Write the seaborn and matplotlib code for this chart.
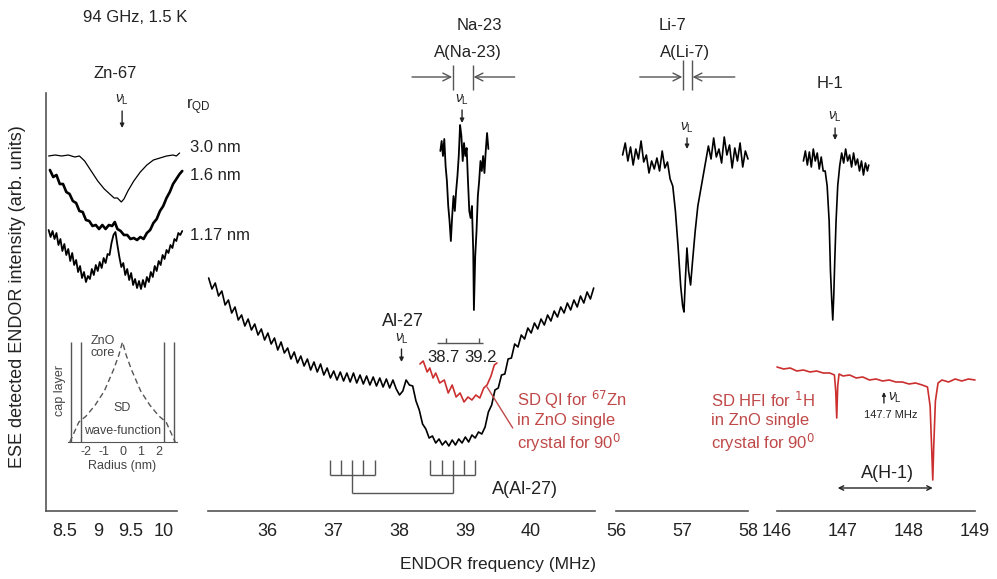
import matplotlib
matplotlib.use("Agg")
import matplotlib.pyplot as plt
import numpy as np
import seaborn as sns

sns.set_style("white")
plt.rcParams['font.family'] = ['Liberation Sans', 'DejaVu Sans']
plt.rcParams['mathtext.fontset'] = 'custom'
plt.rcParams['mathtext.rm'] = 'Liberation Sans'
plt.rcParams['mathtext.it'] = 'Liberation Sans:italic'
plt.rcParams['mathtext.fallback'] = 'stixsans'

# ---------------- data (frequency in MHz, intensity in arb. units) ----------------
zn_30_x = [8.25, 8.35, 8.45, 8.55, 8.65, 8.72, 8.80, 8.90, 9.00, 9.10, 9.20, 9.25, 9.30,
           9.36, 9.40, 9.46, 9.55, 9.65, 9.75, 9.85, 9.95, 10.05, 10.15, 10.20, 10.25]
zn_30_y = [35.5, 35.6, 35.5, 35.6, 35.4, 35.5, 35.0, 34.0, 33.0, 32.2, 31.6, 31.3, 31.3,
           30.9, 31.2, 32.0, 33.0, 33.9, 34.6, 35.1, 35.3, 35.5, 35.6, 35.5, 35.8]

zn_16_x = [8.27, 8.32, 8.37, 8.42, 8.47, 8.52, 8.57, 8.62, 8.67, 8.72, 8.77, 8.82, 8.87,
           8.92, 8.97, 9.02, 9.07, 9.12, 9.17, 9.22, 9.26, 9.30, 9.35, 9.40, 9.45, 9.50,
           9.55, 9.60, 9.65, 9.70, 9.75, 9.80, 9.85, 9.90, 9.95, 10.00, 10.05, 10.10,
           10.15, 10.20, 10.25, 10.29]
zn_16_y = [34.1, 33.4, 33.6, 32.7, 32.7, 31.9, 31.7, 31.0, 30.8, 30.0, 29.9, 29.1, 29.0,
           28.5, 28.6, 28.2, 28.6, 28.2, 28.6, 28.5, 28.9, 28.2, 28.0, 27.6, 27.6, 27.2,
           27.3, 27.1, 27.4, 27.2, 27.8, 28.1, 28.8, 29.2, 30.0, 30.5, 31.3, 31.9, 32.7,
           33.2, 33.7, 34.0]

zn_117_x = [8.25, 8.28, 8.31, 8.34, 8.37, 8.40, 8.43, 8.46, 8.49, 8.52, 8.55, 8.58, 8.61,
            8.64, 8.67, 8.70, 8.73, 8.76, 8.79, 8.82, 8.85, 8.88, 8.91, 8.94, 8.97, 9.00,
            9.03, 9.06, 9.09, 9.12, 9.15, 9.18, 9.21, 9.24, 9.27, 9.30, 9.33, 9.36, 9.39,
            9.42, 9.45, 9.48, 9.51, 9.54, 9.57, 9.60, 9.63, 9.66, 9.69, 9.72, 9.75, 9.78,
            9.81, 9.84, 9.87, 9.90, 9.93, 9.96, 9.99, 10.02, 10.05, 10.08, 10.11, 10.14,
            10.17, 10.20, 10.23, 10.26, 10.29]
zn_117_y = [28.1, 27.4, 28.0, 27.2, 27.8, 26.6, 27.2, 26.0, 26.7, 25.6, 26.2, 25.0, 25.8,
            24.6, 25.1, 23.9, 24.5, 23.3, 23.9, 22.9, 23.5, 23.2, 24.2, 23.6, 24.6, 24.0,
            24.9, 24.3, 25.3, 24.8, 25.7, 25.6, 26.8, 27.6, 27.9, 26.6, 25.4, 24.4, 24.8,
            23.6, 24.2, 23.1, 23.8, 22.6, 23.2, 22.3, 23.0, 22.2, 23.1, 22.4, 23.4, 22.9,
            23.9, 23.4, 24.5, 24.0, 25.0, 24.6, 25.6, 25.2, 26.1, 25.8, 26.6, 26.3, 27.2,
            27.0, 27.8, 27.6, 28.0]

# inset: spin density wave function vs radius (nm)
wf_r = [-2.9, -2.6, -2.4, -2.0, -1.5, -1.0, -0.5, -0.2, 0.0, 0.2, 0.5, 1.0, 1.5, 2.0, 2.4, 2.6, 2.9]
wf_psi = [0.0, 0.12, 0.2, 0.26, 0.37, 0.51, 0.72, 0.87, 1.0, 0.87, 0.72, 0.51, 0.37, 0.26, 0.2, 0.12, 0.0]
core_edges = [-2.3, 2.3]
cap_edges = [-2.85, 2.85]

# Al-27 ENDOR (35.10 ... 40.95 MHz, 0.05 MHz steps)
al_y = [23.3, 22.2, 22.8, 21.5, 22.0, 20.6, 21.1, 19.8, 20.4, 19.1, 19.6, 18.5, 19.2, 18.1,
        18.7, 17.6, 18.2, 17.1, 17.8, 16.7, 17.3, 16.1, 16.9, 15.8, 16.3, 15.2, 15.9, 14.8,
        15.5, 14.5, 15.2, 14.1, 14.9, 13.9, 14.7, 13.6, 14.3, 13.3, 14.0, 13.1, 13.9, 13.0,
        13.8, 12.9, 13.8, 12.8, 13.6, 12.7, 13.5, 12.6, 13.4, 12.5, 13.3, 12.4, 13.2, 12.3,
        13.1, 12.2, 11.6, 12.0, 13.1, 12.6, 12.5, 11.0, 10.1, 8.7, 8.2, 7.3, 7.5, 6.8, 7.2,
        6.6, 7.0, 6.5, 7.1, 6.6, 7.2, 6.8, 7.4, 6.9, 7.6, 7.3, 7.9, 7.7, 8.4, 9.9, 10.6, 12.1,
        12.3, 13.6, 13.7, 15.2, 15.3, 16.7, 16.4, 17.6, 17.2, 18.3, 17.8, 18.8, 18.2, 19.2,
        18.6, 19.6, 19.0, 20.0, 19.4, 20.4, 19.8, 20.8, 20.1, 21.1, 20.4, 21.5, 20.8, 21.9,
        21.2, 22.3]
al_x = np.linspace(35.10, 40.95, len(al_y))

# 67Zn quadrupole interaction, single crystal (red)
qi_x = [38.31, 38.36, 38.42, 38.46, 38.51, 38.55, 38.61, 38.68, 38.74, 38.80, 38.86, 38.92,
        38.98, 39.04, 39.10, 39.16, 39.22, 39.28, 39.33, 39.39, 39.44, 39.48]
qi_y = [14.7, 15.0, 13.9, 14.3, 13.3, 13.8, 12.8, 13.1, 11.8, 12.6, 11.4, 11.8, 10.9, 11.4,
        11.1, 11.6, 11.3, 12.3, 12.6, 13.5, 14.6, 14.8]
qi_marks = [38.7, 39.2]

# Al-27 hyperfine stick diagram
al_sticks_low = [36.94, 37.11, 37.28, 37.45, 37.62]
al_sticks_high = [38.47, 38.64, 38.81, 38.98, 39.15]

# Na-23 ENDOR
na_x = [38.62, 38.64, 38.66, 38.68, 38.70, 38.72, 38.74, 38.76, 38.78, 38.80, 38.82, 38.84,
        38.86, 38.88, 38.90, 38.92, 38.94, 38.96, 38.98, 39.00, 39.02, 39.04, 39.06, 39.08,
        39.10, 39.12, 39.13, 39.15, 39.17, 39.19, 39.21, 39.23, 39.25, 39.27, 39.29, 39.31,
        39.33, 39.35]
na_y = [36.0, 37.0, 35.5, 37.2, 34.5, 33.0, 30.5, 29.0, 27.0, 29.5, 31.5, 30.0, 32.0, 33.5,
        35.5, 38.6, 37.5, 35.0, 36.8, 35.5, 36.3, 33.0, 30.0, 29.3, 30.5, 26.0, 20.1, 25.5,
        28.0, 31.5, 33.0, 35.0, 34.0, 35.5, 33.8, 36.0, 37.8, 36.2]

# Li-7 ENDOR
li_x = [56.10, 56.14, 56.18, 56.22, 56.26, 56.30, 56.34, 56.38, 56.42, 56.46, 56.50, 56.54,
        56.58, 56.62, 56.66, 56.70, 56.74, 56.78, 56.82, 56.86, 56.90, 56.94, 56.98, 57.01,
        57.03, 57.05, 57.075, 57.10, 57.13, 57.16, 57.20, 57.24, 57.28, 57.32, 57.36, 57.40,
        57.44, 57.48, 57.52, 57.56, 57.60, 57.64, 57.68, 57.72, 57.76, 57.80, 57.84, 57.88,
        57.92, 57.96, 58.00]
li_y = [35.6, 36.8, 35.0, 36.4, 34.6, 36.2, 35.2, 37.0, 34.9, 35.6, 33.8, 35.0, 34.2, 35.3,
        34.0, 36.0, 34.3, 34.9, 33.2, 32.5, 30.0, 26.5, 22.5, 20.5, 19.9, 23.0, 26.3, 24.0,
        22.6, 25.0, 28.0, 30.5, 32.0, 33.5, 35.0, 36.5, 35.2, 37.3, 35.4, 36.2, 34.8, 37.4,
        35.6, 36.6, 34.3, 36.3, 35.0, 36.8, 34.4, 36.0, 35.2]

# H-1 ENDOR
h_x = [146.40, 146.43, 146.46, 146.49, 146.52, 146.55, 146.58, 146.61, 146.64, 146.67, 146.70,
       146.73, 146.76, 146.79, 146.81, 146.83, 146.845, 146.86, 146.875, 146.895, 146.92,
       146.95, 146.98, 147.01, 147.04, 147.07, 147.10, 147.13, 147.16, 147.19, 147.22,
       147.25, 147.28, 147.31, 147.34, 147.37, 147.39]
h_y = [35.0, 36.0, 34.6, 35.9, 34.4, 36.2, 35.0, 35.8, 34.2, 35.4, 34.0, 34.0, 32.5, 29.0,
       24.0, 21.0, 19.1, 21.5, 25.0, 29.0, 32.5, 34.5, 35.8, 34.8, 36.2, 35.0, 35.6, 34.4,
       35.8, 34.6, 35.2, 34.0, 35.0, 33.6, 34.8, 34.0, 34.6]

# 1H hyperfine interaction, single crystal (red)
hfi_x = [146.00, 146.10, 146.20, 146.30, 146.40, 146.50, 146.60, 146.70, 146.80, 146.87,
         146.89, 146.905, 146.92, 146.94, 147.00, 147.10, 147.20, 147.30, 147.40, 147.50,
         147.60, 147.70, 147.80, 147.90, 148.00, 148.10, 148.20, 148.28, 148.32, 148.345,
         148.36, 148.375, 148.40, 148.44, 148.50, 148.60, 148.70, 148.80, 148.90, 149.00]
hfi_y = [14.4, 14.2, 14.3, 14.0, 14.1, 13.9, 14.0, 13.8, 13.8, 13.6, 12.0, 9.3, 12.5, 13.7,
         13.5, 13.6, 13.3, 13.4, 13.1, 13.2, 13.0, 13.1, 12.9, 12.9, 12.7, 12.8, 12.6, 12.4,
         10.5, 6.0, 3.1, 6.5, 11.0, 12.8, 13.1, 12.9, 13.2, 13.0, 13.2, 13.1]
h_larmor = 147.62
a_h = [146.92, 148.36]

qi_note = [r'SD QI for $^{\mathsf{67}}$Zn', 'in ZnO single', r'crystal for 90$^{\mathsf{0}}$']
hfi_note = [r'SD HFI for $^{\mathsf{1}}$H', 'in ZnO single', r'crystal for 90$^{\mathsf{0}}$']
note_rows = [11.1, 9.0, 6.8]

# ---------------- figure ----------------
W, H = 997, 579
AX_BOTTOM = 511
fig = plt.figure(figsize=(W / 100, H / 100), dpi=100)

INK = '#222222'
AXC = '#555555'
RED_LINE = '#cc2f2f'
RED_TXT = '#c04848'
NU = r'$\nu_{\rm L}$'


def panel(x0, x1, xlim):
    ax = fig.add_axes([x0 / W, (H - AX_BOTTOM) / H, (x1 - x0) / W, AX_BOTTOM / H])
    ax.set_xlim(*xlim)
    ax.set_ylim(0, AX_BOTTOM / 10)
    ax.patch.set_alpha(0)
    for s in ['top', 'right', 'left']:
        ax.spines[s].set_visible(False)
    ax.spines['bottom'].set_color(AXC)
    ax.spines['bottom'].set_linewidth(1.2)
    ax.set_yticks([])
    ax.tick_params(axis='x', which='major', direction='in', length=6, width=1,
                   color=AXC, pad=9, labelsize=13, labelcolor=INK)
    ax.tick_params(axis='x', which='minor', direction='in', length=3, width=1,
                   color=AXC, pad=9, labelsize=13, labelcolor=INK)
    ax.grid(False)
    return ax


def trace(ax, x, y, color='black', lw=1.2):
    sns.lineplot(x=x, y=y, ax=ax, color=color, lw=lw, estimator=None, sort=False)
    ax.lines[-1].set_clip_on(False)


def arrow(ax, x0, y0, x1, y1, style='-|>', scale=6, color=INK):
    ax.annotate('', xy=(x1, y1), xytext=(x0, y0),
                arrowprops=dict(arrowstyle=style, lw=1, color=color, mutation_scale=scale,
                                shrinkA=0, shrinkB=0),
                annotation_clip=False)


def larmor(ax, x, y_txt, y0, y1):
    ax.text(x, y_txt, NU, ha='center', va='center', fontsize=10, color=INK)
    arrow(ax, x, y0, x, y1)


def note(ax, x, rows):
    for line, yy in zip(rows, note_rows):
        ax.text(x, yy, line, ha='left', va='center', fontsize=12, color=RED_TXT)


# --- Zn-67 panel
ax_zn = panel(46, 177, (8.21, 10.21))
ax_zn.spines['left'].set_visible(True)
ax_zn.spines['left'].set_color(AXC)
ax_zn.spines['left'].set_linewidth(1.2)
ax_zn.spines['left'].set_bounds(0, 41.8)
ax_zn.set_xticks([9, 10], labels=['9', '10'])
ax_zn.set_xticks([8.5, 9.5], labels=['8.5', '9.5'], minor=True)
trace(ax_zn, zn_30_x, zn_30_y, lw=0.9)
trace(ax_zn, zn_16_x, zn_16_y, lw=1.9)
trace(ax_zn, zn_117_x, zn_117_y, lw=1.3)
larmor(ax_zn, 9.372, 41.1, 40.0, 38.3)
ax_zn.text(9.57, 49.3, '94 GHz, 1.5 K', ha='center', va='center', fontsize=12, color=INK)
ax_zn.text(9.27, 43.8, 'Zn-67', ha='center', va='center', fontsize=12, color=INK)
ax_zn.text(10.34, 40.4, r'r$_{\rm QD}$', ha='left', va='center', fontsize=12, color=INK)
for lab, yy in zip(['3.0 nm', '1.6 nm', '1.17 nm'], [36.3, 33.5, 27.6]):
    ax_zn.text(10.41, yy, lab, ha='left', va='center', fontsize=12, color=INK)

# inset with the wave function
ax_in = fig.add_axes([68 / W, (H - 442) / H, 109 / W, 100 / H])
ax_in.set_xlim(-3, 3)
ax_in.set_ylim(0, 1)
ax_in.patch.set_alpha(0)
for s in ['top', 'right', 'left']:
    ax_in.spines[s].set_visible(False)
ax_in.spines['bottom'].set_color(AXC)
ax_in.set_yticks([])
ax_in.set_xticks([-2, -1, 0, 1, 2], labels=['-2', '-1', '0', '1', '2'])
ax_in.tick_params(axis='x', length=0, pad=3, labelsize=9, labelcolor='#444444')
ax_in.set_xlabel('Radius (nm)', fontsize=9, color='#444444', labelpad=1)
sns.lineplot(x=wf_r, y=wf_psi, ax=ax_in, color='#555555', lw=1, linestyle=(0, (4, 2.5)),
             estimator=None, sort=False)
ax_in.vlines(core_edges + cap_edges, 0, 1, color=AXC, lw=1)
ax_in.text(-1.78, 1.07, 'ZnO\ncore', ha='left', va='top', fontsize=9, color='#444444',
           linespacing=1.0)
ax_in.text(0, 0.34, 'SD', ha='center', va='center', fontsize=9, color='#444444')
ax_in.text(0, 0.11, 'wave-function', ha='center', va='center', fontsize=9, color='#444444')
ax_in.text(-3.45, 0.52, 'cap layer', ha='center', va='center', rotation=90, fontsize=9,
           color='#444444')

# --- Al-27 / Na-23 panel
ax_al = panel(208, 595, (35.09, 40.97))
ax_al.set_xticks([36, 37, 38, 39, 40], labels=['36', '37', '38', '39', '40'])
ax_al.set_xticks([35.5, 36.5, 37.5, 38.5, 39.5, 40.5], minor=True)
trace(ax_al, al_x, al_y, lw=1.2)
trace(ax_al, qi_x, qi_y, color=RED_LINE, lw=1.2)
trace(ax_al, na_x, na_y, lw=1.3)
larmor(ax_al, 38.03, 17.2, 16.2, 14.9)
ax_al.text(38.05, 18.9, 'Al-27', ha='center', va='center', fontsize=13, color=INK)
ax_al.hlines(16.8, 38.57, 39.27, color=AXC, lw=1)
ax_al.vlines(qi_marks, 16.8, 17.3, color=AXC, lw=1)
ax_al.text(qi_marks[0] + 0.21, 15.4, f'{qi_marks[0]}', ha='right', va='center', fontsize=12,
           color=INK)
ax_al.text(qi_marks[1] - 0.21, 15.4, f'{qi_marks[1]}', ha='left', va='center', fontsize=12,
           color=INK)
arrow(ax_al, 39.72, 8.3, 39.33, 12.4, style='-', color=RED_TXT)
note(ax_al, 39.78, qi_note)
# stick diagram
for grp in (al_sticks_low, al_sticks_high):
    ax_al.vlines(grp, 3.6, 5.1, color=AXC, lw=1)
    ax_al.hlines(3.6, grp[0], grp[-1], color=AXC, lw=1)
    ax_al.vlines(grp[2], 1.8, 3.6, color=AXC, lw=1)
ax_al.hlines(1.8, al_sticks_low[2], al_sticks_high[2], color=AXC, lw=1)
ax_al.text(39.9, 2.1, 'A(Al-27)', ha='center', va='center', fontsize=13, color=INK)
# Na-23 header
ax_al.text(39.21, 48.6, 'Na-23', ha='center', va='center', fontsize=12, color=INK)
ax_al.text(39.04, 45.8, 'A(Na-23)', ha='center', va='center', fontsize=12, color=INK)
ax_al.vlines([38.81, 39.115], 42.1, 44.6, color=AXC, lw=1)
arrow(ax_al, 38.19, 43.4, 38.80, 43.4, style='->', scale=14, color=AXC)
arrow(ax_al, 39.75, 43.4, 39.125, 43.4, style='->', scale=14, color=AXC)
larmor(ax_al, 38.95, 41.1, 40.1, 38.8)

# --- Li-7 panel
ax_li = panel(616, 748, (56, 58))
ax_li.set_xticks([56, 57, 58], labels=['56', '57', '58'])
ax_li.set_xticks([56.5, 57.5], minor=True)
trace(ax_li, li_x, li_y, lw=1.2)
larmor(ax_li, 57.076, 38.3, 37.3, 36.2)
ax_li.text(56.85, 48.6, 'Li-7', ha='center', va='center', fontsize=12, color=INK)
ax_li.text(57.045, 45.9, 'A(Li-7)', ha='center', va='center', fontsize=12, color=INK)
ax_li.vlines([57.015, 57.15], 42.1, 45.1, color=AXC, lw=1)
arrow(ax_li, 56.36, 43.4, 57.005, 43.4, style='->', scale=14, color=AXC)
arrow(ax_li, 57.80, 43.4, 57.16, 43.4, style='->', scale=14, color=AXC)

# --- H-1 panel
ax_h = panel(777, 975, (146, 149))
ax_h.set_xticks([146, 147, 148, 149], labels=['146', '147', '148', '149'])
ax_h.set_xticks([146.5, 147.5, 148.5], minor=True)
trace(ax_h, h_x, h_y, lw=1.2)
trace(ax_h, hfi_x, hfi_y, color=RED_LINE, lw=1.2)
larmor(ax_h, 146.88, 39.4, 38.3, 37.1)
ax_h.text(146.80, 42.8, 'H-1', ha='center', va='center', fontsize=12, color=INK)
arrow(ax_h, h_larmor, 10.8, h_larmor, 11.9, scale=5)
ax_h.text(h_larmor + 0.06, 11.3, NU, ha='left', va='center', fontsize=10, color=INK)
ax_h.text(147.72, 9.6, '147.7 MHz', ha='center', va='center', fontsize=8, color=INK)
arrow(ax_h, a_h[1], 2.3, a_h[0], 2.3, style='<->', scale=8)
ax_h.text(147.67, 3.8, 'A(H-1)', ha='center', va='center', fontsize=13, color=INK)
note(ax_h, 145.0, hfi_note)

# shared labels
fig.text(498 / W, 1 - 565 / H, 'ENDOR frequency (MHz)', ha='center', va='center',
         fontsize=12.5, color=INK)
fig.text(18 / W, 1 - 297 / H, 'ESE detected ENDOR intensity (arb. units)', ha='center',
         va='center', rotation=90, fontsize=13, color=INK)

fig.savefig('out.png', dpi=100, facecolor='white')
